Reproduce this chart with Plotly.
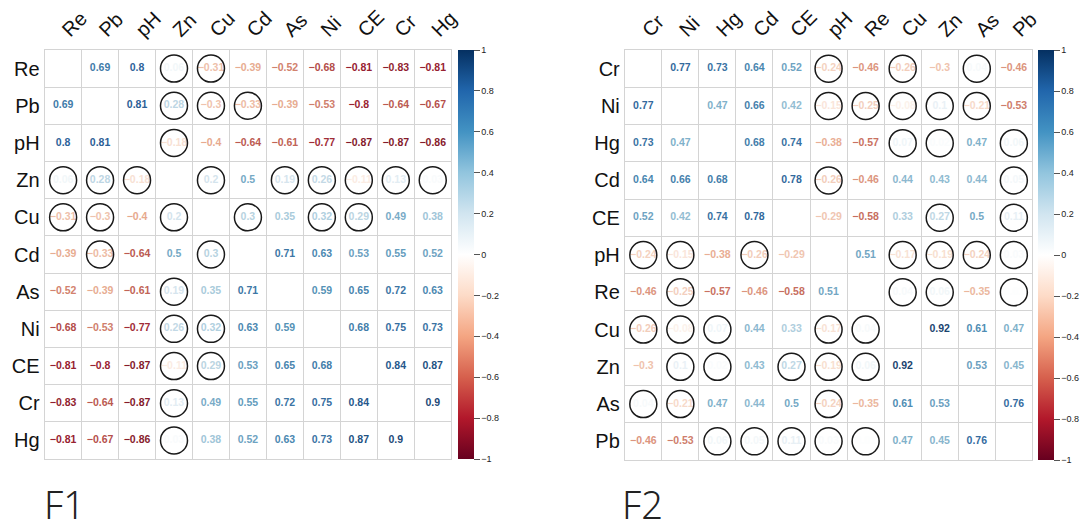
import plotly.graph_objects as go
from plotly.colors import sample_colorscale, unlabel_rgb, hex_to_rgb

# ---- Panel F1: correlation matrix ----
f1_labels = ["Re", "Pb", "pH", "Zn", "Cu", "Cd", "As", "Ni", "CE", "Cr", "Hg"]
f1_r = [
    [None, 0.69, 0.8, 0.06, -0.31, -0.39, -0.52, -0.68, -0.81, -0.83, -0.81],
    [0.69, None, 0.81, 0.28, -0.3, -0.33, -0.39, -0.53, -0.8, -0.64, -0.67],
    [0.8, 0.81, None, -0.18, -0.4, -0.64, -0.61, -0.77, -0.87, -0.87, -0.86],
    [0.06, 0.28, -0.18, None, 0.2, 0.5, 0.19, 0.26, -0.11, 0.13, 0.03],
    [-0.31, -0.3, -0.4, 0.2, None, 0.3, 0.35, 0.32, 0.29, 0.49, 0.38],
    [-0.39, -0.33, -0.64, 0.5, 0.3, None, 0.71, 0.63, 0.53, 0.55, 0.52],
    [-0.52, -0.39, -0.61, 0.19, 0.35, 0.71, None, 0.59, 0.65, 0.72, 0.63],
    [-0.68, -0.53, -0.77, 0.26, 0.32, 0.63, 0.59, None, 0.68, 0.75, 0.73],
    [-0.81, -0.8, -0.87, -0.11, 0.29, 0.53, 0.65, 0.68, None, 0.84, 0.87],
    [-0.83, -0.64, -0.87, 0.13, 0.49, 0.55, 0.72, 0.75, 0.84, None, 0.9],
    [-0.81, -0.67, -0.86, 0.03, 0.38, 0.52, 0.63, 0.73, 0.87, 0.9, None],
]
# 1 = not significant (circled)
f1_ns = [
    [0, 0, 0, 1, 1, 0, 0, 0, 0, 0, 0],
    [0, 0, 0, 1, 1, 1, 0, 0, 0, 0, 0],
    [0, 0, 0, 1, 0, 0, 0, 0, 0, 0, 0],
    [1, 1, 1, 0, 1, 0, 1, 1, 1, 1, 1],
    [1, 1, 0, 1, 0, 1, 0, 1, 1, 0, 0],
    [0, 1, 0, 0, 1, 0, 0, 0, 0, 0, 0],
    [0, 0, 0, 1, 0, 0, 0, 0, 0, 0, 0],
    [0, 0, 0, 1, 1, 0, 0, 0, 0, 0, 0],
    [0, 0, 0, 1, 1, 0, 0, 0, 0, 0, 0],
    [0, 0, 0, 1, 0, 0, 0, 0, 0, 0, 0],
    [0, 0, 0, 1, 0, 0, 0, 0, 0, 0, 0],
]

# ---- Panel F2: correlation matrix ----
f2_labels = ["Cr", "Ni", "Hg", "Cd", "CE", "pH", "Re", "Cu", "Zn", "As", "Pb"]
f2_r = [
    [None, 0.77, 0.73, 0.64, 0.52, -0.24, -0.46, -0.26, -0.3, 0.04, -0.46],
    [0.77, None, 0.47, 0.66, 0.42, -0.15, -0.25, -0.08, 0.1, -0.21, -0.53],
    [0.73, 0.47, None, 0.68, 0.74, -0.38, -0.57, 0.07, 0.02, 0.47, 0.06],
    [0.64, 0.66, 0.68, None, 0.78, -0.26, -0.46, 0.44, 0.43, 0.44, 0.05],
    [0.52, 0.42, 0.74, 0.78, None, -0.29, -0.58, 0.33, 0.27, 0.5, 0.11],
    [-0.24, -0.15, -0.38, -0.26, -0.29, None, 0.51, -0.17, -0.19, -0.24, 0.03],
    [-0.46, -0.25, -0.57, -0.46, -0.58, 0.51, None, 0.04, 0.06, -0.35, 0.01],
    [-0.26, -0.08, 0.07, 0.44, 0.33, -0.17, 0.04, None, 0.92, 0.61, 0.47],
    [-0.3, 0.1, 0.02, 0.43, 0.27, -0.19, 0.06, 0.92, None, 0.53, 0.45],
    [0.04, -0.21, 0.47, 0.44, 0.5, -0.24, -0.35, 0.61, 0.53, None, 0.76],
    [-0.46, -0.53, 0.06, 0.05, 0.11, 0.03, 0.01, 0.47, 0.45, 0.76, None],
]
f2_ns = [
    [0, 0, 0, 0, 0, 1, 0, 1, 0, 1, 0],
    [0, 0, 0, 0, 0, 1, 1, 1, 1, 1, 0],
    [0, 0, 0, 0, 0, 0, 0, 1, 1, 0, 1],
    [0, 0, 0, 0, 0, 1, 0, 0, 0, 0, 1],
    [0, 0, 0, 0, 0, 0, 0, 0, 1, 0, 1],
    [1, 1, 0, 1, 0, 0, 0, 1, 1, 1, 1],
    [0, 1, 0, 0, 0, 0, 0, 1, 1, 0, 1],
    [1, 1, 1, 0, 0, 1, 1, 0, 0, 0, 0],
    [0, 1, 1, 0, 1, 1, 1, 0, 0, 0, 0],
    [1, 1, 0, 0, 0, 1, 0, 0, 0, 0, 0],
    [0, 0, 1, 1, 1, 1, 1, 0, 0, 0, 0],
]

cbar_ticks = [1, 0.8, 0.6, 0.4, 0.2, 0, -0.2, -0.4, -0.6, -0.8, -1]

RDBU = [
    [0.0, "#67001F"], [0.1, "#B2182B"], [0.2, "#D6604D"], [0.3, "#F4A582"],
    [0.4, "#FDDBC7"], [0.5, "#FFFFFF"], [0.6, "#D1E5F0"], [0.7, "#92C5DE"],
    [0.8, "#4393C3"], [0.9, "#2166AC"], [1.0, "#053061"],
]

W, H = 1086, 532
GRID = "#d4d4d4"
SANS = "Liberation Sans, Arial, sans-serif"


def fmt(v):
    return f"{round(v, 2):g}".replace("-", "\u2212")


def text_colour(v):
    # colour from the scale, slightly muted towards its own grey level
    c = sample_colorscale(RDBU, [(v + 1) / 2])[0]
    r, g, b = unlabel_rgb(c) if c.startswith("rgb") else hex_to_rgb(c)
    grey = 0.3 * r + 0.59 * g + 0.11 * b
    k = 0.22
    return "rgb({:.0f},{:.0f},{:.0f})".format(
        r + (grey - r) * k, g + (grey - g) * k, b + (grey - b) * k)


fig = go.Figure()


def add_panel(labels, r, ns, k, x0, x1, y0, y1, cb_x):
    n = len(labels)
    xa, ya = ("x", "y") if k == 1 else (f"x{k}", f"y{k}")
    xs, ys, txt, cols = [], [], [], []
    cx, cy = [], []
    for i in range(n):
        for j in range(n):
            v = r[i][j]
            if v is None:
                continue
            xs.append(j)
            ys.append(i)
            txt.append(fmt(v))
            cols.append(text_colour(v))
            if ns[i][j]:
                cx.append(j)
                cy.append(i)
    fig.add_trace(go.Scatter(
        x=xs, y=ys, text=txt, mode="text", xaxis=xa, yaxis=ya,
        textfont=dict(family=SANS, size=10.5, color=cols, weight="bold"),
        hoverinfo="skip", showlegend=False,
    ))
    fig.add_trace(go.Scatter(
        x=cx, y=cy, mode="markers", xaxis=xa, yaxis=ya,
        marker=dict(symbol="circle-open", size=27, color="#1a1a1a",
                    line=dict(width=1.5, color="#1a1a1a")),
        hoverinfo="skip", showlegend=False,
    ))
    # colour key
    fig.add_trace(go.Scatter(
        x=[0, 0], y=[0, 0], mode="markers", xaxis=xa, yaxis=ya,
        marker=dict(size=0.1, opacity=0, color=[-1, 1], cmin=-1, cmax=1,
                    colorscale=RDBU, showscale=True,
                    colorbar=dict(
                        x=cb_x, xanchor="left", xpad=0, ypad=0,
                        y=1 - y0 / H, yanchor="top", lenmode="pixels",
                        len=y1 - y0, thickness=16, outlinewidth=0,
                        tickvals=cbar_ticks,
                        ticktext=[fmt(t) for t in cbar_ticks],
                        ticks="outside", ticklen=6, tickcolor="#555",
                        tickfont=dict(family=SANS, size=9, color="#222"),
                    )),
        hoverinfo="skip", showlegend=False,
    ))
    axis_common = dict(
        range=[-0.5, n - 0.5], tickmode="array", tickvals=list(range(n)),
        ticktext=labels, showgrid=False, zeroline=False, showline=True,
        mirror=True, linecolor=GRID, linewidth=1, ticks="",
        minor=dict(tickmode="array", tickvals=[t + 0.5 for t in range(n - 1)],
                   showgrid=True, gridcolor=GRID, gridwidth=1, ticks=""),
    )
    xkey = "xaxis" if k == 1 else f"xaxis{k}"
    ykey = "yaxis" if k == 1 else f"yaxis{k}"
    fig.update_layout({
        xkey: dict(axis_common, domain=[x0 / W, x1 / W], side="top",
                   tickangle=-45, anchor=ya,
                   tickfont=dict(family=SANS, size=20, color="#111")),
        ykey: dict(axis_common, domain=[1 - y1 / H, 1 - y0 / H],
                   range=[n - 0.5, -0.5], anchor=xa,
                   tickfont=dict(family=SANS, size=20, color="#111")),
    })


add_panel(f1_labels, f1_r, f1_ns, 1, 45, 455, 50, 459, 461.5 / W)
add_panel(f2_labels, f2_r, f2_ns, 2, 630, 1041, 50, 460, 1046.5 / W)

for name, xpos in (("F1", 42), ("F2", 625)):
    fig.add_annotation(
        text=name, x=xpos / W, y=0.0, xref="paper", yref="paper",
        xanchor="left", yanchor="bottom", showarrow=False,
        font=dict(family="Noto Sans, sans-serif", size=38, color="#222",
                  weight=300),
    )

fig.update_layout(
    width=W, height=H, margin=dict(l=0, r=0, t=0, b=0),
    paper_bgcolor="white", plot_bgcolor="white",
)

fig.write_html("out.html")
